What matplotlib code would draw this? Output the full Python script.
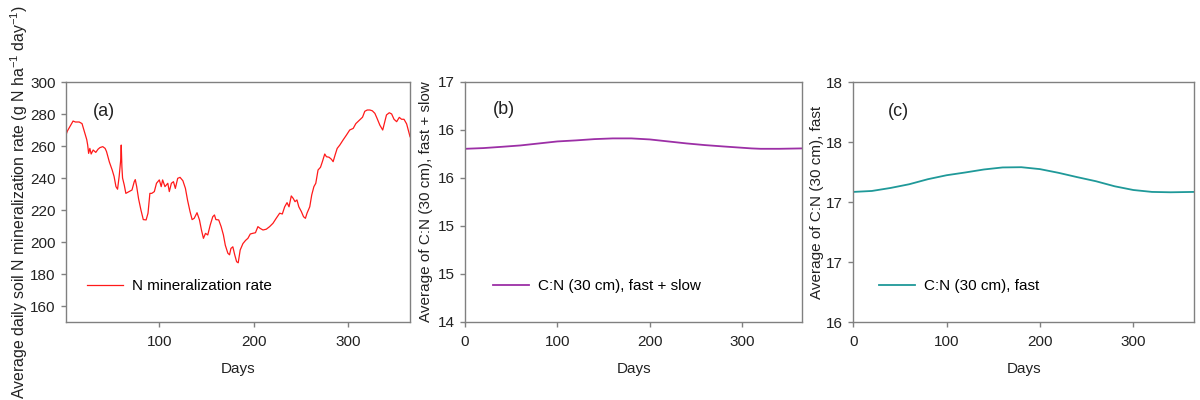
import numpy as np
import matplotlib
matplotlib.use("Agg")
import matplotlib.pyplot as plt
import matplotlib.ticker as mticker

plt.rcParams["font.family"] = ["Liberation Sans", "DejaVu Sans"]
plt.rcParams["mathtext.default"] = "regular"

# ---------------------------------------------------------------------------
# Data
# ---------------------------------------------------------------------------

# (a) average daily soil N mineralization rate
days_a = [1, 2.5, 6, 8.5, 11, 15, 18, 20, 23, 24, 25, 26.3, 27.7, 29.8, 32.6,
          35, 37, 40, 42.5, 44, 47, 50, 52, 54, 55.7, 57.4, 59, 59.6, 60.3,
          61, 62.8, 64.5, 68, 71, 73.4, 74.5, 76, 78, 80.5, 83, 86, 88, 90,
          92, 94.7, 97, 100, 102, 103.5, 106, 109, 110.6, 112.8, 115, 117,
          119.5, 122, 125, 127.7, 130, 132.6, 134.8, 137, 140, 142.6, 144.7,
          146.8, 149, 151.4, 154, 156.7, 158.5, 160, 163, 165.6, 168, 170,
          172.7, 174.5, 176, 178, 180, 182, 183.7, 185.8, 188.7, 191.5, 194,
          196.5, 199, 202, 204.6, 207, 210, 213.5, 217, 220.6, 224, 227.7,
          230.5, 233, 235.5, 237.6, 240, 242, 244, 246, 248, 250.7, 253, 255,
          256.7, 259.6, 261.7, 264, 266, 268.4, 271, 273, 275.5, 277.3, 280,
          282.6, 284.4, 286.5, 288.7, 291.5, 295, 298.6, 302, 305.7, 308.5,
          312, 315.6, 318, 320.6, 323.4, 326, 328.7, 331, 334, 337, 338.7,
          341, 344, 346.5, 349, 351.8, 354.6, 357, 359.6, 362.4, 364.5, 366]
n_min = [267, 269.4, 273, 275.6, 275, 275, 274, 270, 264, 260.6, 255.4, 258.5,
         255, 257.5, 256, 258, 259, 259.6, 258.5, 256.5, 250, 245, 241, 234.6,
         233, 241, 251, 260.6, 247, 240, 235.6, 230.4, 231.5, 232.5, 237.7,
         239, 234.6, 227, 220, 214, 213.8, 218, 230.4, 230.4, 231.5, 236.7,
         238.8, 234.6, 238.8, 234.6, 236.7, 231.5, 236.7, 237.7, 233.5, 239.8,
         240.4, 238.3, 233.5, 226, 219, 214, 214.8, 218.3, 213.8, 207.5,
         202.3, 205.4, 204.4, 210.6, 215.8, 216.9, 214, 213.8, 209.6, 204.4,
         198, 193, 192, 196, 197, 192, 187.7, 187, 195, 199, 201, 202.3, 205,
         205.4, 205.8, 209.6, 208.5, 207.5, 208, 209.6, 211.7, 214.8, 218,
         217.5, 222, 224.6, 222, 228.8, 227.3, 225.2, 226.3, 222, 219, 215.8,
         214.8, 218, 222, 229.4, 234.6, 236.7, 245, 246.7, 250.2, 255, 253.3,
         253, 251.7, 250.2, 254.4, 258.5, 260.6, 263.8, 266.9, 270, 271, 274,
         276, 278, 281.7, 282.5, 282.5, 282, 280.4, 277.3, 273, 270, 274,
         279.4, 280.8, 280, 276.7, 275.2, 277.9, 276.7, 276.7, 273.8, 269,
         265.8]

# (b) C:N (30 cm), fast + slow
days_b = [0, 20, 40, 60, 80, 100, 120, 140, 160, 180, 200, 220, 240, 260,
          280, 300, 310, 320, 340, 365]
cn_fs = [16.165, 16.174, 16.19, 16.207, 16.232, 16.257, 16.27, 16.286,
         16.295, 16.295, 16.282, 16.257, 16.232, 16.211, 16.194, 16.178,
         16.17, 16.165, 16.165, 16.17]

# (c) C:N (30 cm), fast
days_c = [0, 20, 40, 60, 80, 100, 120, 140, 160, 180, 200, 220, 240, 260,
          280, 300, 320, 340, 365]
cn_f = [17.084, 17.092, 17.117, 17.148, 17.19, 17.223, 17.246, 17.271,
        17.288, 17.29, 17.274, 17.243, 17.207, 17.173, 17.131, 17.1, 17.084,
        17.081, 17.084]

# ---------------------------------------------------------------------------

FS = 11
GREY = "#808080"
TXT = "#222222"

fig = plt.figure(figsize=(12, 4), dpi=100)
ax_a = fig.add_axes([0.055, 0.195, 0.2867, 0.6])
ax_b = fig.add_axes([0.3875, 0.195, 0.281, 0.6])
ax_c = fig.add_axes([0.711, 0.195, 0.284, 0.6])


def round_half_up(v, _):
    return f"{int(np.floor(v + 0.5 + 1e-9))}"


def style(ax):
    for s in ax.spines.values():
        s.set_color(GREY)
        s.set_linewidth(1.0)
    ax.tick_params(axis="both", direction="out", length=3.5, width=1.0,
                   color=GREY, labelsize=FS, labelcolor=TXT, pad=4,
                   top=False, right=False)
    ax.tick_params(axis="x", pad=6)
    ax.set_xlabel("Days", fontsize=FS, color=TXT, labelpad=9)


# (a)
ax_a.plot(days_a, n_min, color="#ff1a1a", lw=0.9,
          label="N mineralization rate")
ax_a.set_xlim(1, 366)
ax_a.set_xticks([100, 200, 300])
ax_a.set_ylim(150, 300)
ax_a.set_yticks(range(160, 301, 20))
ax_a.set_ylabel("Average daily soil N mineralization rate (g N ha$^{-1}$ day$^{-1}$)",
                fontsize=11.4, color=TXT, labelpad=0)
ax_a.text(0.078, 0.875, "(a)", transform=ax_a.transAxes, fontsize=13,
          color=TXT, va="center", ha="left")
ax_a.legend(loc="center left", bbox_to_anchor=(0.061, 0.15), frameon=False,
            fontsize=FS, handlelength=2.35, handletextpad=0.6,
            borderpad=0, borderaxespad=0)
style(ax_a)

# (b)
ax_b.plot(days_b, cn_fs, color="#9c2fa6", lw=1.3,
          label="C:N (30 cm), fast + slow")
ax_b.set_xlim(0, 365)
ax_b.set_xticks([0, 100, 200, 300])
ax_b.set_ylim(14, 17)
ax_b.set_yticks([14, 14.6, 15.2, 15.8, 16.4, 17])
ax_b.yaxis.set_major_formatter(mticker.FuncFormatter(round_half_up))
ax_b.set_ylabel("Average of C:N (30 cm), fast + slow", fontsize=FS,
                color=TXT, labelpad=3)
ax_b.text(0.083, 0.8875, "(b)", transform=ax_b.transAxes, fontsize=13,
          color=TXT, va="center", ha="left")
ax_b.legend(loc="center left", bbox_to_anchor=(0.083, 0.15), frameon=False,
            fontsize=FS, handlelength=2.35, handletextpad=0.6,
            borderpad=0, borderaxespad=0)
style(ax_b)

# (c)
ax_c.plot(days_c, cn_f, color="#1f9999", lw=1.3,
          label="C:N (30 cm), fast")
ax_c.set_xlim(0, 365)
ax_c.set_xticks([0, 100, 200, 300])
ax_c.set_ylim(16, 18)
ax_c.set_yticks([16, 16.5, 17, 17.5, 18])
ax_c.yaxis.set_major_formatter(mticker.FuncFormatter(round_half_up))
ax_c.set_ylabel("Average of C:N (30 cm), fast", fontsize=FS, color=TXT,
                labelpad=1)
ax_c.text(0.103, 0.875, "(c)", transform=ax_c.transAxes, fontsize=13,
          color=TXT, va="center", ha="left")
ax_c.legend(loc="center left", bbox_to_anchor=(0.076, 0.15), frameon=False,
            fontsize=FS, handlelength=2.35, handletextpad=0.6,
            borderpad=0, borderaxespad=0)
style(ax_c)

fig.savefig("out.png", dpi=100, facecolor="white")
plt.close(fig)
